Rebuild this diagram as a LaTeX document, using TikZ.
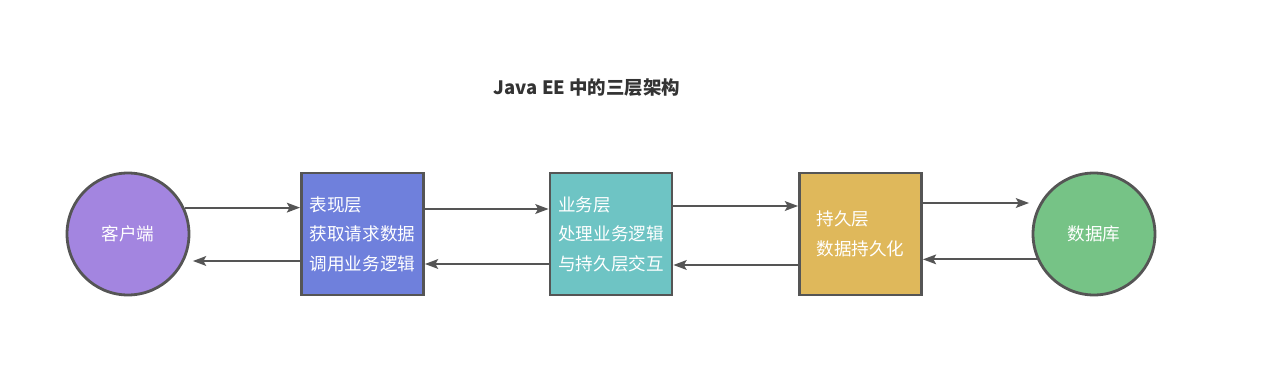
\documentclass[tikz,border=0pt]{standalone}
\usepackage{fontspec}
\setmainfont{Noto Sans CJK SC}
\usetikzlibrary{arrows.meta}
\definecolor{edgegray}{HTML}{555555}
\definecolor{clientc}{HTML}{A385E0}
\definecolor{webc}{HTML}{6F80DC}
\definecolor{bizc}{HTML}{6EC4C4}
\definecolor{persc}{HTML}{DFB85B}
\definecolor{dbc}{HTML}{76C386}

\begin{document}
\begin{tikzpicture}[x=0.02cm,y=-0.02cm,
  layer/.style={draw=edgegray,line width=1.6pt,minimum width=2.44cm,minimum height=2.44cm,text=white,align=left,font=\fontsize{10}{16.8}\selectfont,inner sep=0pt},
  end/.style={circle,draw=edgegray,line width=1.6pt,minimum size=2.44cm,text=white,font=\fontsize{10}{12}\selectfont,inner sep=0pt},
  flow/.style={draw=edgegray,line width=1.25pt,-{Stealth[length=7.5pt,width=5.5pt,inset=1.5pt]}}]
\useasboundingbox (0,0) rectangle (1286,375);
\node[font=\bfseries\fontsize{10.5}{12}\selectfont,text=black!80] (title) at (587,88) {Java EE 中的三层架构};
\node[end,fill=clientc] (client) at (128,234) {客户端};
\node[layer,fill=webc] (web) at (362.5,234) {表现层\\获取请求数据\\调用业务逻辑};
\node[layer,fill=bizc] (biz) at (611,234) {业务层\\处理业务逻辑\\与持久层交互};
\node[layer,fill=persc] (pers) at (860.5,234) {持久层\\数据持久化};
\node[end,fill=dbc] (db) at (1094,234) {数据库};
% client <-> presentation
\draw[flow] (client.25) -- (client.25 -| web.west);
\draw[flow] ([yshift=-0.54cm]web.west) -- ([xshift=0.05cm,yshift=-0.54cm]client.east);
% presentation <-> business
\draw[flow] ([yshift=0.5cm]web.east) -- ([yshift=0.5cm]biz.west);
\draw[flow] ([yshift=-0.6cm]biz.west) -- ([yshift=-0.6cm]web.east);
% business <-> persistence
\draw[flow] ([yshift=0.56cm]biz.east) -- ([yshift=0.56cm]pers.west);
\draw[flow] ([yshift=-0.62cm]pers.west) -- ([yshift=-0.62cm]biz.east);
% persistence <-> database
\draw[flow] ([yshift=0.62cm]pers.east) -- ([xshift=-0.05cm,yshift=0.62cm]db.west);
\draw[flow] (db.204) -- (db.204 -| pers.east);
\end{tikzpicture}
\end{document}
